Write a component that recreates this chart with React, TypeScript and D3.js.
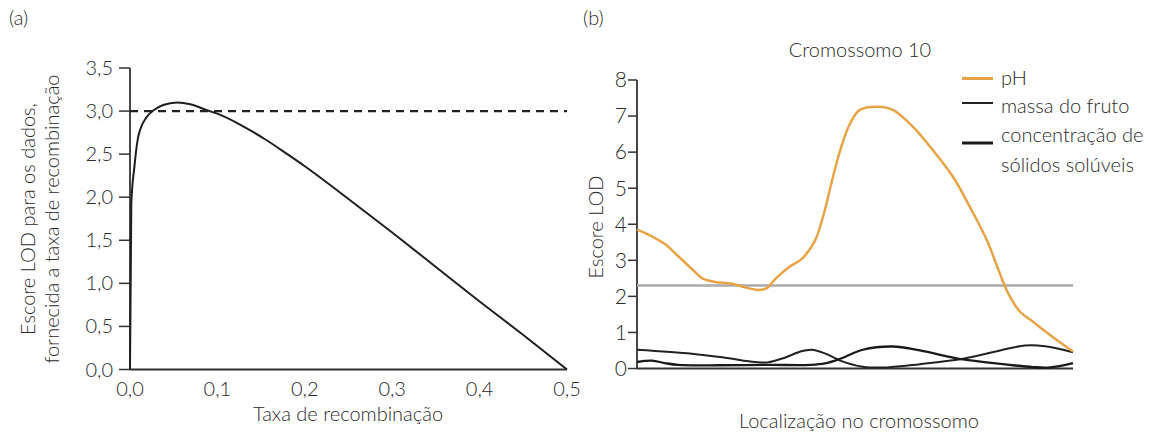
import React from "react";
import * as d3 from "d3";

// Panel (a): LOD score vs recombination rate
const recombRate = [0, 0.0015, 0.005, 0.009, 0.0115, 0.019, 0.027, 0.038, 0.054, 0.069, 0.088, 0.1, 0.13, 0.155, 0.18, 0.2, 0.25, 0.3, 0.35, 0.4, 0.45, 0.5];
const lodScore = [0, 1.93, 2.35, 2.68, 2.78, 2.93, 3.01, 3.07, 3.1, 3.08, 3.01, 2.97, 2.82, 2.67, 2.5, 2.36, 1.98, 1.59, 1.19, 0.79, 0.4, 0];
const lodThresholdA = 3.0;
const aYTicks = [0, 0.5, 1.0, 1.5, 2.0, 2.5, 3.0, 3.5];
const aXTicks = [0, 0.1, 0.2, 0.3, 0.4, 0.5];

// Panel (b): chromosome 10 LOD profiles
const phPos = [0, 2.5, 6.4, 9.4, 12.6, 15.1, 17.9, 21.8, 24.8, 27.8, 29.8, 31.7, 34.6, 37.8, 40.8, 43.1, 44.3, 46.6, 48.9, 51.1, 55.3, 58.7, 63.3, 67.9, 72.5, 76.4, 80.3, 83.3, 84.9, 87.8, 90.8, 93.1, 96.6, 100];
const phLod = [3.85, 3.72, 3.45, 3.12, 2.76, 2.49, 2.4, 2.35, 2.25, 2.18, 2.23, 2.48, 2.79, 3.04, 3.54, 4.4, 5.0, 6.05, 6.8, 7.17, 7.26, 7.17, 6.7, 6.05, 5.31, 4.47, 3.54, 2.61, 2.14, 1.58, 1.3, 1.08, 0.76, 0.47];
const massaPos = [0, 12.6, 20.2, 27.1, 30, 33.9, 37.5, 40.1, 43.1, 46.6, 51.8, 57.3, 64.9, 74.8, 83.3, 89, 93.6, 100];
const massaLod = [0.52, 0.41, 0.3, 0.18, 0.17, 0.3, 0.47, 0.52, 0.42, 0.22, 0.05, 0.03, 0.12, 0.27, 0.5, 0.64, 0.62, 0.45];
const solidosPos = [0, 3.4, 6.4, 9.4, 19, 30.5, 39.7, 43.1, 46.6, 51.8, 58.7, 64.9, 74.8, 83.3, 90.8, 94.7, 100];
const solidosLod = [0.18, 0.22, 0.15, 0.1, 0.09, 0.1, 0.1, 0.14, 0.27, 0.52, 0.61, 0.5, 0.25, 0.13, 0.04, 0.03, 0.15];
const lodThresholdB = 2.3;
const bYTicks = [0, 1, 2, 3, 4, 5, 6, 7, 8];
const legendLabels = ["pH", "massa do fruto", "concentração de|sólidos solúveis"];

const FONT = "Lato, 'Open Sans', sans-serif";
const TXT = "#2a2a2a";

export default function App() {
  // scales panel a
  const ax = d3.scaleLinear().domain([0, 0.5]).range([130, 567]);
  const ay = d3.scaleLinear().domain([0, 3.5]).range([369.5, 68]);
  const lineA = d3
    .line<number>()
    .x((_, i) => ax(recombRate[i]))
    .y((d) => ay(d))
    .curve(d3.curveMonotoneX);

  // scales panel b
  const bx = d3.scaleLinear().domain([0, 100]).range([637, 1073]);
  const by = d3.scaleLinear().domain([0, 8]).range([368.5, 80]);
  const mk = (pos: number[]) =>
    d3
      .line<number>()
      .x((_, i) => bx(pos[i]))
      .y((d) => by(d))
      .curve(d3.curveCatmullRom.alpha(0.5));

  const fmtA = (v: number) => v.toFixed(1).replace(".", ",");

  const legendColors = ["#e6a447", "#222", "#1a1a1a"];
  const legendWidths = [3, 2, 3];
  const legendLineY = [78.5, 103, 143];
  const legendTextY = [78, 106, 135];

  return (
    <svg
      width={1162}
      height={436}
      style={{ position: "absolute", left: 0, top: 0, background: "#fff" }}
      fontFamily={FONT}
      fontWeight={300}
    >
      {/* ---------- Panel (a) ---------- */}
      <text x={9} y={25} fontSize={20} fill={TXT}>(a)</text>

      {/* y axis */}
      <line x1={ax(0)} x2={ax(0)} y1={ay(3.5)} y2={ay(0)} stroke="#333" strokeWidth={1.8} />
      {aYTicks.map((t) => (
        <g key={"ay" + t}>
          <line x1={ax(0) - 11} x2={ax(0)} y1={ay(t)} y2={ay(t)} stroke="#333" strokeWidth={1.5} />
          <text x={ax(0) - 17} y={ay(t)} dy="0.35em" textAnchor="end" fontSize={20} fill={TXT}>
            {fmtA(t)}
          </text>
        </g>
      ))}
      {/* x axis */}
      <line x1={ax(0)} x2={ax(0.5)} y1={ay(0)} y2={ay(0)} stroke="#333" strokeWidth={1.8} />
      {aXTicks.map((t) => (
        <text key={"ax" + t} x={ax(t)} y={396} textAnchor="middle" fontSize={20} fill={TXT}>
          {fmtA(t)}
        </text>
      ))}
      {/* threshold dashed */}
      <line
        x1={ax(0)}
        x2={ax(0.5)}
        y1={ay(lodThresholdA)}
        y2={ay(lodThresholdA)}
        stroke="#222"
        strokeWidth={2.2}
        strokeDasharray="8 6"
      />
      <path d={lineA(lodScore) || ""} fill="none" stroke="#1e1e1e" strokeWidth={2} />

      <text
        transform={`translate(35, 219) rotate(-90)`}
        textAnchor="middle"
        fontSize={20}
        fill={TXT}
      >
        Escore LOD para os dados,
      </text>
      <text
        transform={`translate(59, 219) rotate(-90)`}
        textAnchor="middle"
        fontSize={20}
        fill={TXT}
      >
        fornecida a taxa de recombinação
      </text>
      <text x={348} y={421} textAnchor="middle" fontSize={20} fill={TXT}>
        Taxa de recombinação
      </text>

      {/* ---------- Panel (b) ---------- */}
      <text x={583} y={25} fontSize={20} fill={TXT}>(b)</text>
      <text x={860} y={57} textAnchor="middle" fontSize={20} fill={TXT}>
        Cromossomo 10
      </text>

      <line x1={bx(0)} x2={bx(0)} y1={by(8)} y2={by(0)} stroke="#333" strokeWidth={1.8} />
      {bYTicks.map((t) => (
        <g key={"by" + t}>
          <line x1={bx(0) - 9} x2={bx(0)} y1={by(t)} y2={by(t)} stroke="#333" strokeWidth={1.5} />
          <text x={bx(0) - 10} y={by(t)} dy="0.35em" textAnchor="end" fontSize={21} fill={TXT}>
            {t}
          </text>
        </g>
      ))}
      <line x1={bx(0)} x2={bx(100)} y1={by(0)} y2={by(0)} stroke="#333" strokeWidth={1.8} />

      <line
        x1={bx(0)}
        x2={bx(100)}
        y1={by(lodThresholdB)}
        y2={by(lodThresholdB)}
        stroke="#aaaaaa"
        strokeWidth={2.5}
      />

      <path d={mk(massaPos)(massaLod) || ""} fill="none" stroke="#222" strokeWidth={2} />
      <path d={mk(solidosPos)(solidosLod) || ""} fill="none" stroke="#1a1a1a" strokeWidth={2.3} />
      <path d={mk(phPos)(phLod) || ""} fill="none" stroke="#e6a447" strokeWidth={2.5} />

      {/* legend */}
      {legendLabels.map((lab, i) => (
        <g key={"lg" + i}>
          <line
            x1={962}
            x2={993}
            y1={legendLineY[i]}
            y2={legendLineY[i]}
            stroke={legendColors[i]}
            strokeWidth={legendWidths[i]}
          />
          {lab.split("|").map((part, j) => (
            <text
              key={j}
              x={1001}
              y={legendTextY[i] + j * 30}
              dy="0.35em"
              fontSize={20}
              fill={TXT}
            >
              {part}
            </text>
          ))}
        </g>
      ))}

      <text
        transform={`translate(603, 227) rotate(-90)`}
        textAnchor="middle"
        fontSize={20}
        fill={TXT}
      >
        Escore LOD
      </text>
      <text x={859} y={428} textAnchor="middle" fontSize={20} fill={TXT}>
        Localização no cromossomo
      </text>
    </svg>
  );
}
